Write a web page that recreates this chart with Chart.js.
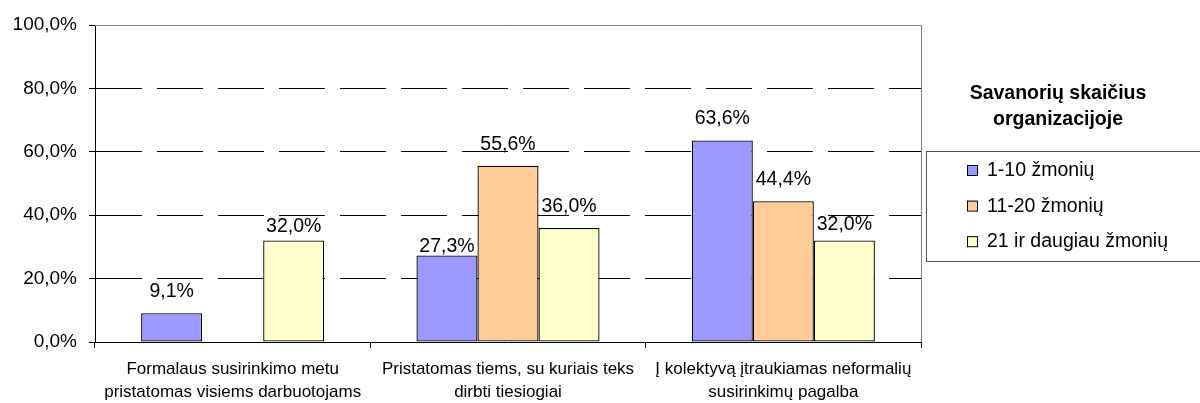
<!DOCTYPE html>
<html lang="lt">
<head>
<meta charset="utf-8">
<title>Savanorių skaičius organizacijoje</title>
<script src="https://cdn.jsdelivr.net/npm/chart.js@4.4.1/dist/chart.umd.min.js"></script>
<style>
    html, body { margin: 0; padding: 0; background: #fff; }
    #wrap { width: 1200px; height: 403px; }
</style>
</head>
<body>
<div id="wrap"><canvas id="savanoriaiChart" width="1200" height="403"></canvas></div>
<script>
// Kategorijos (X ašis), kiekviena po dvi eilutes
const categories = [
    ['Formalaus susirinkimo metu', 'pristatomas visiems darbuotojams'],
    ['Pristatomas tiems, su kuriais teks', 'dirbti tiesiogiai'],
    ['Į kolektyvą įtraukiamas neformalių', 'susirinkimų pagalba']
];

// Serijų pavadinimai ir reikšmės (%)
const seriesNames = ['1-10 žmonių', '11-20 žmonių', '21 ir daugiau žmonių'];
const smallOrg = [9.1, 27.3, 63.6];
const mediumOrg = [null, 55.6, 44.4];
const largeOrg = [32.0, 36.0, 32.0];

// Y ašies padalos
const yTicks = [0, 20, 40, 60, 80, 100];

// Legendos antraštė
const legendTitle = ['Savanorių skaičius', 'organizacijoje'];

const FONT = '"Liberation Sans", Arial, sans-serif';

/**
 * Formatuoja procentus kaip Excel: 9,1%
 */
function formatPercent(v) {
    return v.toFixed(1).replace('.', ',') + '%';
}

// Pilkas diagramos rėmelis (viršus ir dešinė)
const plotFrame = {
    id: 'plotFrame',
    beforeDatasetsDraw(chart) {
        const { ctx, chartArea: a } = chart;
        ctx.save();
        ctx.strokeStyle = '#808080';
        ctx.lineWidth = 1;
        ctx.beginPath();
        ctx.moveTo(a.left, a.top + 0.5);
        ctx.lineTo(a.right + 0.5, a.top + 0.5);
        ctx.lineTo(a.right + 0.5, a.bottom);
        ctx.stroke();
        ctx.restore();
    }
};

// Reikšmių etiketės virš stulpelių
const barValueLabels = {
    id: 'barValueLabels',
    afterDatasetsDraw(chart, args, opts) {
        const ctx = chart.ctx;
        ctx.save();
        ctx.font = opts.font;
        ctx.fillStyle = '#000';
        ctx.textAlign = 'center';
        ctx.textBaseline = 'alphabetic';
        chart.data.datasets.forEach((ds, di) => {
            const meta = chart.getDatasetMeta(di);
            meta.data.forEach((bar, i) => {
                const v = ds.data[i];
                if (v === null || v === undefined) return;
                const key = di + ':' + i;
                const gap = key in opts.gaps ? opts.gaps[key] : opts.gap;
                ctx.fillText(formatPercent(v), bar.x, bar.y - gap);
            });
        });
        ctx.restore();
    }
};

// Legenda su antrašte ir rėmeliu dešinėje
const sideLegend = {
    id: 'sideLegend',
    afterDraw(chart, args, opts) {
        const ctx = chart.ctx;
        ctx.save();
        ctx.fillStyle = '#000';
        ctx.textAlign = 'center';
        ctx.textBaseline = 'alphabetic';
        ctx.font = 'bold 19.5px ' + FONT;
        opts.title.forEach((line, i) => {
            ctx.fillText(line, opts.titleX, opts.titleY + i * 26);
        });

        // Rėmelis
        ctx.strokeStyle = '#555';
        ctx.lineWidth = 1;
        ctx.strokeRect(opts.boxX + 0.5, opts.boxY + 0.5, opts.boxW, opts.boxH);

        // Įrašai
        ctx.font = '19.5px ' + FONT;
        ctx.textAlign = 'left';
        ctx.textBaseline = 'alphabetic';
        chart.data.datasets.forEach((ds, i) => {
            const cy = opts.firstY + i * opts.rowGap;
            ctx.fillStyle = ds.backgroundColor;
            ctx.fillRect(opts.markerX, cy - 5, 10, 10);
            ctx.strokeStyle = '#000';
            ctx.strokeRect(opts.markerX + 0.5, cy - 5 + 0.5, 10, 10);
            ctx.fillStyle = '#000';
            ctx.fillText(ds.label, opts.markerX + 20, cy + 6);
        });
        ctx.restore();
    }
};

const colors = ['#9999FF', '#FFCC99', '#FFFFCC'];
const seriesData = [smallOrg, mediumOrg, largeOrg];

new Chart(document.getElementById('savanoriaiChart'), {
    type: 'bar',
    data: {
        labels: categories,
        datasets: seriesNames.map((name, i) => ({
            label: name,
            data: seriesData[i],
            backgroundColor: colors[i],
            borderColor: '#000',
            borderWidth: 1.3,
            borderSkipped: false,
            categoryPercentage: 0.665,
            barPercentage: 1.0
        }))
    },
    options: {
        responsive: false,
        animation: false,
        layout: {
            padding: { top: 25, right: 279, left: 0, bottom: 0 }
        },
        plugins: {
            legend: { display: false },
            tooltip: { enabled: false },
            barValueLabels: {
                font: '19.5px ' + FONT,
                gap: 16,
                gaps: { '0:1': 3, '2:0': 9, '2:2': 11 }
            },
            sideLegend: {
                title: legendTitle,
                titleX: 1058,
                titleY: 99,
                boxX: 926,
                boxY: 151,
                boxW: 300,
                boxH: 110,
                markerX: 967,
                firstY: 170,
                rowGap: 35.6
            }
        },
        scales: {
            x: {
                offset: true,
                afterFit: s => { s.height = 61; },
                grid: {
                    offset: true,
                    drawOnChartArea: false,
                    drawTicks: true,
                    tickLength: 6,
                    tickColor: '#000'
                },
                border: { display: true, color: '#000', width: 1 },
                ticks: {
                    color: '#000',
                    font: { family: FONT, size: 17, lineHeight: 23 / 17 },
                    padding: 10,
                    maxRotation: 0,
                    autoSkip: false
                }
            },
            y: {
                min: 0,
                max: 100,
                afterFit: s => { s.width = 95; },
                afterBuildTicks: s => { s.ticks = yTicks.map(v => ({ value: v })); },
                grid: {
                    color: ctx => (ctx.tick && ctx.tick.value === 100) ? 'rgba(0,0,0,0)' : '#000',
                    lineWidth: 1,
                    tickLength: 6,
                    tickColor: '#000'
                },
                border: { display: true, color: '#000', width: 1, dash: [46, 15] },
                ticks: {
                    color: '#000',
                    font: { family: FONT, size: 19 },
                    padding: 12,
                    callback: v => formatPercent(v)
                }
            }
        }
    },
    plugins: [plotFrame, barValueLabels, sideLegend]
});
</script>
</body>
</html>
